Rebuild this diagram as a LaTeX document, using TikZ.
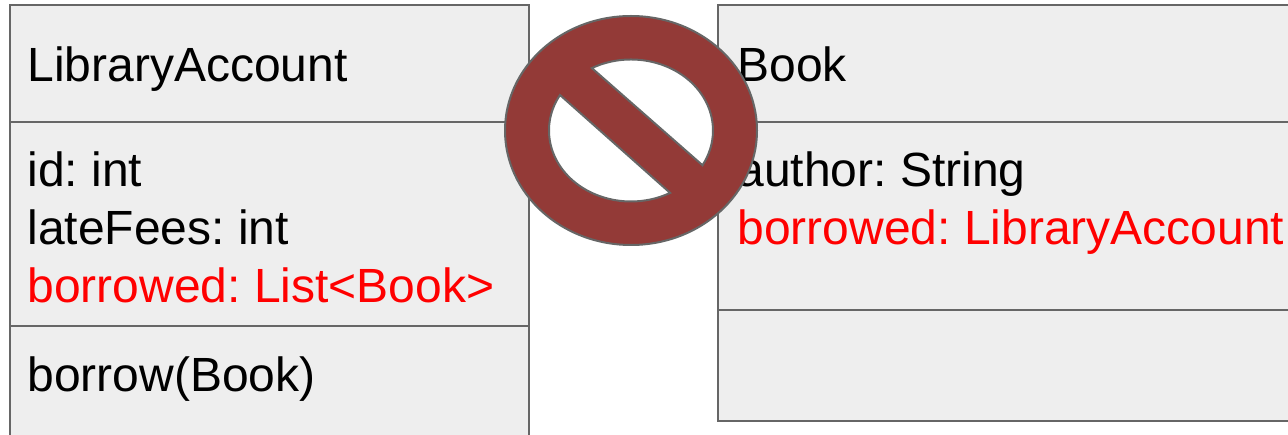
\documentclass[tikz,border=0pt]{standalone}
\usepackage{fontspec}
\setmainfont{Liberation Sans}
\usepackage{tikz}
\definecolor{boxfill}{RGB}{238, 238, 238}
\definecolor{boxline}{RGB}{102, 102, 102}
\definecolor{nosign}{RGB}{147, 58, 55}
\usetikzlibrary{positioning}
\tikzset{
    compartment/.style={draw=boxline, line width=2pt, fill=boxfill, inner xsep=17.5pt, inner ysep=0pt,
        outer sep=0pt, anchor=north west, align=flush left, text width=484pt,
        font=\fontsize{48}{57.6}\selectfont\frenchspacing},
    bookpart/.style={compartment, inner xsep=19.5pt, text width=640pt},
    forbid/.style={draw=boxline, line width=2pt, fill=nosign, even odd rule}
}
\begin{document}
\begin{tikzpicture}[x=1pt, y=1pt]
        \useasboundingbox (0,0) rectangle (1288,434);
        \clip (0,0) rectangle (1288,434);
        \node[compartment, text height=77pt, text depth=40pt] (accountname) at (10,429) {LibraryAccount};
        \node[compartment, text height=65pt, text depth=139pt, below=0pt of accountname] (accountattrs) {id: int\\
            lateFees: int\\
            \textcolor{red}{borrowed: List<Book>}};
        \node[compartment, text height=65pt, text depth=69pt, below=0pt of accountattrs] (accountops) {borrow(Book)};
        \node[bookpart, text height=77pt, text depth=40pt] (bookname) at (718,429) {Book};
        \node[bookpart, text height=65pt, text depth=123pt, below=0pt of bookname] (bookattrs) {author: String\\
            \textcolor{red}{borrowed: LibraryAccount}};
        \node[bookpart, text height=60pt, text depth=51pt, below=0pt of bookattrs] (bookops) {};
        \coordinate (signcenter) at (631,303.5);
        \draw[forbid] (signcenter) ellipse [x radius=126pt, y radius=114.5pt]
            (signcenter) ++(118.5:82pt and 71pt) arc [start angle=118.5, end angle=-29.3, x radius=82pt, y radius=71pt] -- cycle
            (signcenter) ++(150:82pt and 71pt) arc [start angle=150, end angle=298.5, x radius=82pt, y radius=71pt] -- cycle;
    \end{tikzpicture}
\end{document}
